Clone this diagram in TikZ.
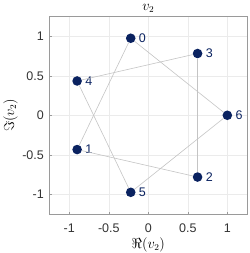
\documentclass[tikz,border=0pt]{standalone}
\usepackage[no-math]{fontspec}
\setsansfont{Liberation Sans}
\usepackage{tikz}
\usetikzlibrary{positioning}
\definecolor{navy}{HTML}{0A2260}
\definecolor{edgegray}{HTML}{C4C4C4}
\definecolor{gridgray}{HTML}{EBEBEB}
\definecolor{boxgray}{HTML}{9A9A9A}

\begin{document}
\begin{tikzpicture}[
    x=79pt, y=79pt,
    vertex/.style={circle, fill=navy, inner sep=0pt, minimum size=9.6pt},
    num/.style={font=\sffamily\fontsize{12.5}{14}\selectfont, text=navy, inner sep=0.5pt},
    ticklbl/.style={font=\sffamily\fontsize{12.5}{14}\selectfont, text=black!80, inner sep=0pt},
    axlbl/.style={font=\fontsize{13.5}{15}\selectfont, inner sep=0pt},
    edge/.style={draw=edgegray, line width=0.6pt}
]
    \useasboundingbox (-1.877,-1.743) rectangle (1.275,1.459);

    % Gitter und Rahmen
    \foreach \t in {-1,-0.5,0,0.5,1} {
        \draw[gridgray, line width=0.5pt] (\t,-1.25) -- (\t,1.25);
        \draw[gridgray, line width=0.5pt] (-1.25,\t) -- (1.25,\t);
        \draw[boxgray, line width=0.5pt] (\t,-1.25) -- ++(0,0.03);
        \draw[boxgray, line width=0.5pt] (-1.25,\t) -- ++(0.03,0);
    }
    \draw[boxgray, line width=0.6pt] (-1.25,-1.25) rectangle (1.25,1.25);

    % Achsenbeschriftung
    \foreach \t [count=\i] in {-1,-0.5,0,0.5,1} {
        \node[ticklbl] (xt\i) at (\t,-1.427) {\t};
        \node[ticklbl, anchor=east] (yt\i) at (-1.32,\t) {\t};
    }
    \node[axlbl] (title) at (0,1.355) {$v_2$};
    \node[axlbl] (xlabel) at (0,-1.64) {$\Re(v_2)$};
    \node[axlbl, rotate=90] (ylabel) at (-1.745,0) {$\Im(v_2)$};

    % Knoten
    \node[vertex] (p0) at (102.857:1) {};
    \node[vertex] (p1) at (205.714:1) {};
    \node[vertex] (p2) at (308.571:1) {};
    \node[vertex] (p3) at (51.429:1) {};
    \node[vertex] (p4) at (154.286:1) {};
    \node[vertex] (p5) at (257.143:1) {};
    \node[vertex] (p6) at (0:1) {};

    \node[num, right=2.5pt of p0] (n0) {0};
    \node[num, right=2.5pt of p1] (n1) {1};
    \node[num, right=2.5pt of p2] (n2) {2};
    \node[num, right=2.5pt of p3] (n3) {3};
    \node[num, right=2.5pt of p4] (n4) {4};
    \node[num, right=2.5pt of p5] (n5) {5};
    \node[num, right=2.5pt of p6] (n6) {6};

    % Kanten
    \draw[edge] (p0) -- (p1);
    \draw[edge] (p1) -- (p2);
    \draw[edge] (p2) -- (p3);
    \draw[edge] (p3) -- (p4);
    \draw[edge] (p4) -- (p5);
    \draw[edge] (p5) -- (p6);
    \draw[edge] (p6) -- (p0);

\end{tikzpicture}
\end{document}
